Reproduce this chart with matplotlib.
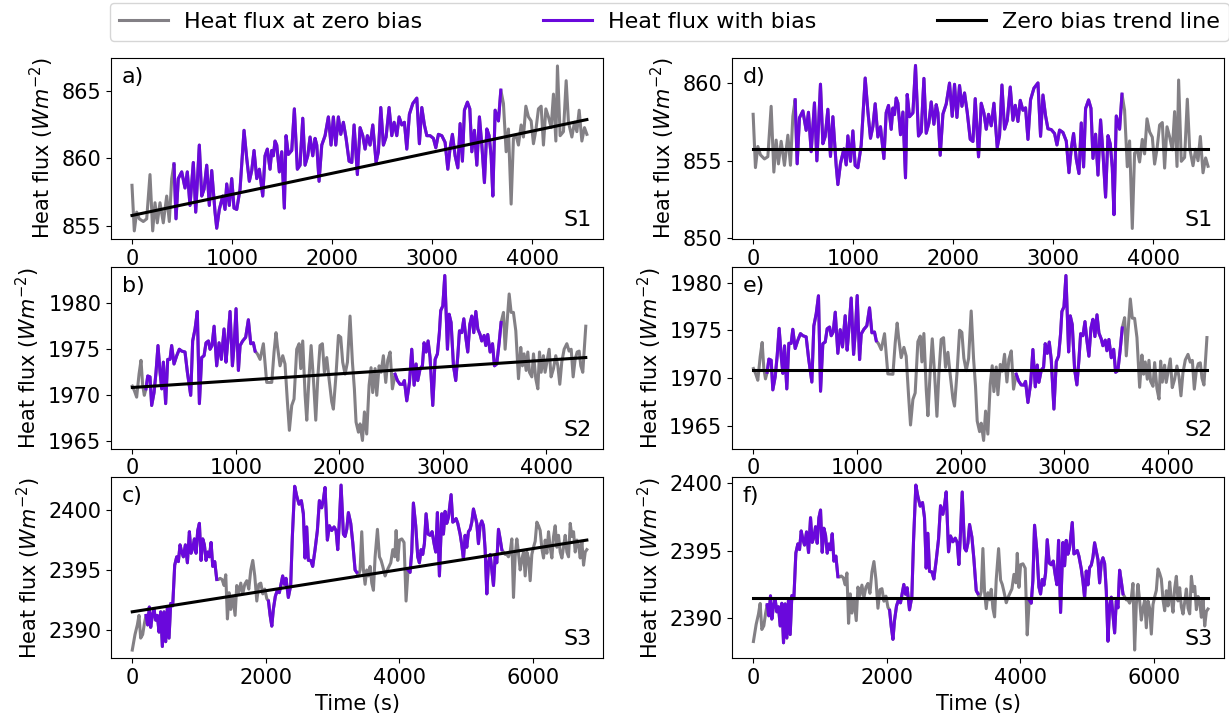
import numpy as np
import matplotlib.pyplot as plt
from matplotlib.lines import Line2D
from matplotlib.ticker import MultipleLocator

plt.rcParams['font.size'] = 15

# ---- data: time (s) and heat flux (W m^-2) at zero bias
s1_t = [0, 23, 47, 73, 113, 147, 180, 207, 230, 253, 280, 313, 347, 373, 397, 420, 440, 463, 497, 530,
        553, 580, 613, 637, 673, 697, 720, 747, 773, 797, 830, 847, 873, 907, 930, 947, 973, 997, 1020, 1047,
        1080, 1120, 1147, 1173, 1197, 1220, 1247, 1273, 1307, 1330, 1353, 1380, 1397, 1413, 1430, 1447, 1473, 1497, 1523, 1540,
        1563, 1597, 1623, 1653, 1680, 1707, 1730, 1757, 1780, 1807, 1830, 1847, 1870, 1897, 1930, 1963, 1990, 2013, 2037, 2063,
        2087, 2113, 2140, 2170, 2197, 2220, 2253, 2280, 2307, 2330, 2353, 2380, 2407, 2440, 2463, 2487, 2513, 2540, 2570, 2597,
        2620, 2647, 2670, 2697, 2723, 2747, 2773, 2807, 2847, 2873, 2897, 2923, 2947, 2980, 3013, 3037, 3063, 3097, 3130, 3157,
        3180, 3203, 3230, 3257, 3280, 3303, 3323, 3353, 3377, 3397, 3423, 3447, 3473, 3497, 3523, 3547, 3570, 3590, 3607, 3630,
        3663, 3687, 3713, 3740, 3763, 3790, 3813, 3840, 3863, 3890, 3913, 3937, 3963, 3990, 4013, 4037, 4063, 4090, 4113, 4137,
        4163, 4190, 4213, 4237, 4253, 4280, 4313, 4340, 4363, 4397, 4423, 4447, 4470, 4497, 4523, 4547]
s1_q = [858.0, 854.6, 856.0, 855.5, 855.3, 855.5, 858.8, 854.6, 856.7, 855.2, 856.7, 855.2, 857.2, 855.3, 858.5, 859.6, 855.5, 858.5, 859.0, 857.8,
        859.0, 856.5, 859.7, 856.0, 861.0, 857.2, 857.7, 859.5, 856.5, 859.1, 856.0, 854.8, 856.2, 857.2, 856.2, 858.1, 856.5, 858.5, 856.3, 856.2,
        857.7, 862.1, 860.0, 858.3, 859.1, 860.6, 858.5, 859.2, 857.2, 860.2, 860.7, 859.2, 860.6, 860.2, 861.3, 861.0, 859.0, 860.5, 856.3, 861.7,
        860.3, 860.6, 863.7, 859.2, 859.5, 863.0, 859.5, 860.2, 861.6, 860.2, 861.5, 861.0, 858.3, 861.0, 861.7, 863.1, 861.0, 863.1, 861.0, 863.1,
        861.8, 862.7, 861.5, 859.8, 859.7, 862.5, 858.8, 862.3, 861.7, 860.7, 861.7, 861.0, 862.5, 859.7, 860.5, 863.8, 861.0, 861.6, 863.8, 861.7,
        862.7, 861.7, 863.1, 862.5, 862.7, 860.7, 863.3, 864.1, 864.5, 861.1, 863.8, 862.5, 861.7, 861.7, 861.5, 860.8, 861.8, 861.7, 861.2, 859.2,
        860.8, 861.8, 860.2, 859.3, 862.6, 859.8, 863.6, 864.2, 863.7, 860.5, 862.1, 859.5, 863.1, 861.0, 858.2, 862.2, 861.7, 860.2, 857.2, 863.6,
        862.8, 865.1, 864.1, 860.5, 862.2, 856.6, 861.5, 861.7, 861.0, 862.5, 861.6, 863.9, 863.1, 862.8, 861.1, 862.1, 863.7, 863.9, 861.0, 863.7,
        863.1, 862.3, 864.8, 861.3, 866.9, 861.7, 862.0, 865.8, 862.7, 861.6, 862.7, 862.0, 863.6, 861.3, 862.3, 861.8]

s2_t = [0, 20, 42, 65, 84, 100, 116, 132, 149, 171, 187, 210, 229, 248, 268, 284, 300, 322, 342, 364,
        380, 403, 429, 454, 477, 509, 532, 564, 583, 606, 628, 648, 670, 693, 712, 735, 751, 770, 790, 815,
        838, 860, 886, 905, 921, 944, 967, 983, 1002, 1025, 1041, 1066, 1095, 1121, 1144, 1169, 1186, 1208, 1234, 1266,
        1298, 1321, 1347, 1369, 1388, 1401, 1427, 1453, 1475, 1498, 1517, 1540, 1562, 1588, 1611, 1627, 1646, 1669, 1685, 1707,
        1727, 1749, 1772, 1791, 1813, 1836, 1855, 1878, 1900, 1926, 1942, 1968, 1991, 2013, 2032, 2055, 2078, 2103, 2126, 2145,
        2161, 2184, 2200, 2223, 2242, 2264, 2287, 2306, 2322, 2345, 2361, 2384, 2403, 2425, 2448, 2467, 2490, 2512, 2538, 2561,
        2586, 2612, 2628, 2651, 2677, 2699, 2722, 2741, 2757, 2780, 2802, 2818, 2838, 2857, 2876, 2902, 2925, 2947, 2966, 2979,
        2999, 3018, 3044, 3060, 3079, 3102, 3124, 3144, 3160, 3182, 3202, 3221, 3240, 3260, 3279, 3298, 3318, 3337, 3359, 3375,
        3398, 3414, 3433, 3456, 3479, 3498, 3520, 3543, 3562, 3585, 3601, 3623, 3640, 3659, 3681, 3704, 3730, 3752, 3768, 3784,
        3804, 3820, 3836, 3859, 3875, 3897, 3917, 3933, 3949, 3971, 3987, 4004, 4026, 4045, 4068, 4090, 4110, 4129, 4148, 4171,
        4197, 4219, 4239, 4258, 4277, 4297, 4316, 4332, 4351, 4364, 4380]
s2_q = [1971.0, 1970.5, 1969.8, 1972.3, 1973.8, 1971.1, 1970.0, 1970.7, 1972.1, 1972.0, 1968.9, 1970.3, 1972.5, 1975.4, 1972.5, 1970.7, 1973.6, 1969.1, 1973.9, 1973.9,
        1975.4, 1973.4, 1974.3, 1975.0, 1974.8, 1974.7, 1972.5, 1970.0, 1975.9, 1977.2, 1979.1, 1969.1, 1974.1, 1974.3, 1975.7, 1975.9, 1975.0, 1975.4, 1977.5, 1973.2,
        1975.7, 1973.9, 1977.2, 1973.6, 1975.7, 1979.1, 1973.2, 1975.4, 1979.4, 1972.7, 1975.4, 1975.9, 1976.3, 1978.2, 1975.6, 1975.7, 1974.8, 1974.5, 1973.9, 1975.6,
        1971.4, 1971.4, 1971.4, 1974.7, 1976.8, 1975.4, 1973.2, 1974.3, 1973.4, 1969.3, 1966.2, 1968.9, 1969.6, 1975.0, 1975.6, 1972.9, 1975.9, 1970.0, 1967.3, 1972.0,
        1975.4, 1971.8, 1967.3, 1971.8, 1975.4, 1975.6, 1972.5, 1974.1, 1971.8, 1969.3, 1968.5, 1972.3, 1976.5, 1976.3, 1973.6, 1972.3, 1973.6, 1978.6, 1973.6, 1970.7,
        1967.1, 1966.0, 1966.9, 1965.1, 1968.2, 1965.8, 1971.1, 1973.0, 1970.3, 1972.9, 1970.0, 1973.2, 1972.5, 1974.3, 1971.4, 1973.8, 1974.7, 1970.7, 1972.3, 1971.6,
        1971.2, 1971.2, 1971.6, 1969.4, 1971.4, 1975.0, 1971.1, 1973.4, 1971.6, 1972.9, 1973.2, 1975.7, 1974.7, 1975.9, 1974.1, 1968.9, 1973.9, 1974.5, 1976.8, 1979.2,
        1979.7, 1983.0, 1975.0, 1978.8, 1977.9, 1973.2, 1971.6, 1974.3, 1977.0, 1976.8, 1978.3, 1976.3, 1974.7, 1977.7, 1978.6, 1976.8, 1979.1, 1977.2, 1976.6, 1975.9,
        1976.5, 1975.4, 1976.6, 1974.7, 1975.6, 1973.2, 1973.4, 1975.7, 1977.9, 1979.0, 1975.0, 1978.4, 1981.0, 1979.0, 1979.0, 1977.0, 1971.8, 1975.2, 1973.2, 1974.5,
        1972.7, 1974.7, 1972.5, 1972.0, 1974.5, 1971.8, 1970.7, 1974.7, 1972.5, 1974.3, 1972.5, 1973.6, 1975.0, 1972.0, 1972.9, 1974.3, 1973.2, 1971.2, 1973.6, 1975.0,
        1975.6, 1974.8, 1975.0, 1972.0, 1973.9, 1974.7, 1974.8, 1973.2, 1972.5, 1974.7, 1977.5]

s3_t = [0, 41, 76, 101, 126, 156, 181, 206, 231, 256, 276, 301, 326, 351, 376, 401, 426, 451, 476, 501,
        526, 551, 576, 606, 636, 666, 691, 716, 741, 766, 796, 826, 856, 881, 906, 931, 956, 981, 1006, 1031,
        1056, 1081, 1106, 1131, 1156, 1181, 1206, 1236, 1266, 1291, 1316, 1346, 1376, 1401, 1426, 1451, 1476, 1506, 1541, 1566,
        1596, 1626, 1656, 1686, 1716, 1746, 1776, 1806, 1836, 1866, 1896, 1926, 1956, 1986, 2016, 2041, 2066, 2091, 2114, 2144,
        2174, 2204, 2229, 2254, 2279, 2304, 2339, 2374, 2399, 2434, 2464, 2499, 2534, 2564, 2589, 2614, 2639, 2674, 2704, 2739,
        2774, 2804, 2839, 2864, 2889, 2924, 2954, 2989, 3024, 3054, 3079, 3104, 3129, 3164, 3189, 3214, 3239, 3274, 3304, 3339,
        3364, 3389, 3414, 3439, 3464, 3489, 3514, 3539, 3564, 3589, 3614, 3639, 3674, 3704, 3729, 3754, 3789, 3814, 3839, 3874,
        3904, 3934, 3954, 3979, 4004, 4039, 4073, 4103, 4133, 4163, 4188, 4213, 4248, 4278, 4303, 4328, 4353, 4378, 4403, 4433,
        4463, 4493, 4523, 4548, 4573, 4603, 4638, 4663, 4688, 4713, 4738, 4778, 4803, 4828, 4853, 4878, 4913, 4938, 4963, 4988,
        5013, 5038, 5063, 5088, 5113, 5138, 5163, 5188, 5213, 5238, 5263, 5288, 5313, 5338, 5363, 5388, 5413, 5438, 5463, 5488,
        5513, 5538, 5563, 5588, 5613, 5638, 5663, 5688, 5713, 5738, 5763, 5788, 5813, 5838, 5863, 5888, 5913, 5938, 5963, 5988,
        6013, 6038, 6063, 6088, 6113, 6138, 6163, 6188, 6213, 6238, 6263, 6288, 6313, 6338, 6363, 6388, 6413, 6438, 6463, 6488,
        6513, 6538, 6563, 6588, 6613, 6638, 6663, 6688, 6713, 6738, 6763, 6788, 6812]
s3_q = [2388.3, 2389.6, 2390.4, 2391.2, 2389.3, 2389.6, 2390.5, 2391.2, 2390.4, 2391.9, 2390.2, 2391.2, 2391.7, 2390.8, 2391.2, 2389.8, 2391.5, 2388.6, 2391.5, 2389.0,
        2391.9, 2389.3, 2392.2, 2392.0, 2395.4, 2396.1, 2395.7, 2397.1, 2396.5, 2396.1, 2397.1, 2395.6, 2398.2, 2396.4, 2396.8, 2397.6, 2396.4, 2398.3, 2398.9, 2395.8,
        2397.6, 2397.1, 2395.8, 2396.5, 2396.1, 2397.3, 2395.3, 2395.7, 2394.2, 2394.2, 2394.3, 2394.2, 2393.7, 2394.6, 2390.9, 2393.1, 2391.7, 2392.8, 2391.2, 2393.7,
        2393.1, 2393.9, 2393.0, 2393.8, 2394.1, 2393.4, 2395.0, 2395.8, 2394.5, 2392.4, 2393.8, 2393.9, 2393.0, 2393.4, 2392.6, 2392.4, 2391.2, 2390.3, 2391.7, 2392.8,
        2393.3, 2393.1, 2393.8, 2394.5, 2393.8, 2394.3, 2392.7, 2393.7, 2397.8, 2402.0, 2401.2, 2400.5, 2400.8, 2399.7, 2396.0, 2398.6, 2395.8, 2395.8, 2395.3, 2396.7,
        2398.3, 2400.8, 2400.2, 2400.9, 2401.9, 2397.5, 2398.7, 2398.3, 2398.6, 2398.3, 2396.7, 2399.1, 2402.1, 2398.0, 2397.8, 2398.4, 2399.8, 2398.9, 2397.3, 2395.0,
        2394.8, 2394.5, 2395.0, 2398.2, 2395.0, 2393.8, 2395.0, 2394.5, 2395.3, 2393.9, 2393.3, 2396.1, 2398.4, 2396.1, 2395.8, 2395.3, 2394.5, 2394.9, 2395.2, 2395.6,
        2396.7, 2396.1, 2398.3, 2395.8, 2397.5, 2397.6, 2397.3, 2392.4, 2395.0, 2394.8, 2396.5, 2400.6, 2398.7, 2396.1, 2395.6, 2396.7, 2396.3, 2397.2, 2399.7, 2398.0,
        2397.9, 2398.2, 2397.2, 2396.5, 2399.8, 2394.5, 2399.7, 2398.0, 2399.9, 2398.9, 2399.4, 2401.3, 2399.0, 2399.1, 2399.3, 2398.9, 2398.0, 2397.1, 2395.9, 2397.9,
        2396.9, 2398.2, 2398.4, 2399.0, 2400.1, 2399.5, 2398.9, 2397.2, 2398.7, 2399.1, 2398.7, 2396.7, 2393.0, 2395.6, 2396.3, 2395.0, 2393.7, 2396.1, 2395.6, 2398.4,
        2397.6, 2396.7, 2396.5, 2396.3, 2396.3, 2396.1, 2396.5, 2397.6, 2392.7, 2396.1, 2397.6, 2396.4, 2395.0, 2395.9, 2396.5, 2394.5, 2396.5, 2396.0, 2394.1, 2396.3,
        2396.9, 2397.4, 2399.0, 2398.7, 2398.3, 2396.8, 2396.0, 2397.5, 2396.4, 2398.2, 2396.9, 2396.0, 2397.8, 2398.7, 2396.9, 2397.9, 2396.5, 2396.0, 2396.9, 2397.9,
        2396.5, 2396.1, 2398.9, 2397.8, 2398.2, 2396.5, 2397.5, 2397.1, 2396.0, 2397.4, 2395.4, 2396.5, 2396.7]

# periods where the bias is switched on (s)
bias_s1 = [(420, 3690)]
bias_s2 = [(130, 1190), (2515, 3565)]
bias_s3 = [(190, 1270), (2040, 3370), (4130, 5540)]

# zero bias trend line, value at first and last time
trend_s1 = [855.75, 862.9]
trend_s2 = [1970.85, 1974.1]
trend_s3 = [2391.5, 2397.5]

run_names = ['S1', 'S2', 'S3']
left_tags = ['a)', 'b)', 'c)']
right_tags = ['d)', 'e)', 'f)']

GREY = '#838085'
PURPLE = '#6a08dc'


def bias_part(t, q, bias):
    out = np.full_like(q, np.nan)
    for a, b in bias:
        m = (t >= a) & (t <= b)
        out[m] = q[m]
    return out


def draw(ax, t, q, bias, trend, tag, run, xlim):
    ax.plot(t, q, color=GREY, lw=2.2)
    ax.plot(t, bias_part(t, q, bias), color=PURPLE, lw=2.2)
    ax.plot([t[0], t[-1]], trend, color='black', lw=2.2)
    ax.set_xlim(xlim)
    ax.yaxis.set_major_locator(MultipleLocator(5))
    ax.set_ylabel('Heat flux ($Wm^{-2}$)')
    ax.text(0.022, 0.95, tag, transform=ax.transAxes, fontsize=16, va='top', ha='left')
    ax.text(0.977, 0.05, run, transform=ax.transAxes, fontsize=16, va='bottom', ha='right')


fig, axes = plt.subplots(3, 2, figsize=(12.29, 7.15), dpi=100)
fig.subplots_adjust(left=0.0903, right=0.9962, bottom=0.0793, top=0.9193,
                    wspace=0.262, hspace=0.155)

series = [(s1_t, s1_q, bias_s1, trend_s1),
          (s2_t, s2_q, bias_s2, trend_s2),
          (s3_t, s3_q, bias_s3, trend_s3)]
xlims = [(-210, 4710), (-206, 4548), (-319, 7057)]

for i, (t, q, bias, trend) in enumerate(series):
    t = np.array(t, dtype=float)
    q = np.array(q, dtype=float)
    # left: raw signal with the zero bias trend
    draw(axes[i, 0], t, q, bias, trend, left_tags[i], run_names[i], xlims[i])
    # right: same signal with the trend removed
    slope = (trend[1] - trend[0]) / (t[-1] - t[0])
    q_flat = q - slope * (t - t[0])
    draw(axes[i, 1], t, q_flat, bias, [trend[0], trend[0]], right_tags[i], run_names[i], xlims[i])

axes[0, 1].set_ylim(849.95, 861.65)

for ax in axes[2]:
    ax.set_xlabel('Time (s)')
    ax.xaxis.set_major_locator(MultipleLocator(2000))

handles = [Line2D([], [], color=GREY, lw=2.2),
           Line2D([], [], color=PURPLE, lw=2.2),
           Line2D([], [], color='black', lw=2.2)]
fig.legend(handles, ['Heat flux at zero bias', 'Heat flux with bias', 'Zero bias trend line'],
           loc='upper left', bbox_to_anchor=(0.0895, 0.996), borderaxespad=0, ncol=3,
           columnspacing=5.4, handlelength=2.2, handletextpad=0.75, fontsize=16)

fig.savefig('out.png', dpi=100)
